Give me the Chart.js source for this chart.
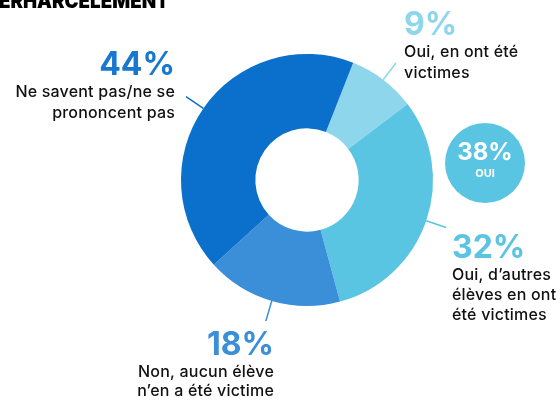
<!DOCTYPE html>
<html>
<head>
<meta charset="utf-8">
<script src="https://cdn.jsdelivr.net/npm/chart.js@4/dist/chart.umd.min.js"></script>
<style>
  html, body { margin: 0; padding: 0; background: #fff; }
  #wrap { position: relative; width: 560px; height: 401px; }
</style>
</head>
<body>
<div id="wrap"><canvas id="chart"></canvas></div>
<script>
// ── Data ────────────────────────────────────────────────────────────

const TITLE = 'ERHARCELEMENT';
const CATEGORIES = [
  'Oui, en ont été victimes',
  'Oui, d\u2019autres élèves en ont été victimes',
  'Non, aucun élève n\u2019en a été victime',
  'Ne savent pas/ne se prononcent pas',
];
const VALUES = [9, 32, 18, 44];
const COLORS = ['#8dd6eb', '#5ac4e3', '#3a8fd8', '#0a70cc'];
const PCT_COLORS = ['#8dd6eb', '#5ac4e3', '#3a8fd8', '#1877cf'];
const YES_TOTAL = '38%';
const YES_LABEL = 'OUI';

// label blocks: lines of text, anchor, alignment (layout only)
const LABELS = [
  { lines: ['Oui, en ont été', 'victimes'], x: 404, y: 35, align: 'left', gap: 21 },
  { lines: ['Oui, d\u2019autres', 'élèves en ont', 'été victimes'], x: 452, y: 258, align: 'left', gap: 20 },
  { lines: ['Non, aucun élève', 'n\u2019en a été victime'], x: 274, y: 355, align: 'right', gap: 19 },
  { lines: ['Ne savent pas/ne se', 'prononcent pas'], x: 175, y: 75, align: 'right', gap: 21 },
];

const FONT = 'Inter, "Noto Sans", sans-serif';

// ── Annotation plugin ───────────────────────────────────────────────

const annotations = {
  id: 'annotations',
  afterDraw(chart) {
    const ctx = chart.ctx;
    const arcs = chart.getDatasetMeta(0).data;
    ctx.save();

    // title, cut at the top edge
    ctx.fillStyle = '#000';
    ctx.font = `900 20px ${FONT}`;
    ctx.textAlign = 'left';
    ctx.textBaseline = 'alphabetic';
    ctx.fillText(TITLE, -1, 8, 170);

    // leader lines
    arcs.forEach((arc, i) => {
      const mid = (arc.startAngle + arc.endAngle) / 2;
      const r0 = arc.outerRadius;
      const r1 = r0 + 21;
      ctx.beginPath();
      ctx.moveTo(arc.x + Math.cos(mid) * r0, arc.y + Math.sin(mid) * r0);
      ctx.lineTo(arc.x + Math.cos(mid) * r1, arc.y + Math.sin(mid) * r1);
      ctx.strokeStyle = COLORS[i];
      ctx.lineWidth = 1.5;
      ctx.stroke();
    });

    // value + description
    LABELS.forEach((lab, i) => {
      ctx.textAlign = lab.align;
      ctx.fillStyle = PCT_COLORS[i];
      ctx.font = `700 32px ${FONT}`;
      ctx.fillText(VALUES[i] + '%', lab.x, lab.y);
      ctx.fillStyle = '#111';
      ctx.font = `500 16px ${FONT}`;
      ctx.letterSpacing = '0.2px';
      lab.lines.forEach((line, j) => {
        ctx.fillText(line, lab.x, lab.y + 21.5 + j * lab.gap);
      });
      ctx.letterSpacing = '0px';
    });

    // "38% OUI" bubble
    ctx.beginPath();
    ctx.arc(485, 163, 40, 0, Math.PI * 2);
    ctx.fillStyle = COLORS[1];
    ctx.fill();
    ctx.fillStyle = '#fff';
    ctx.textAlign = 'center';
    ctx.font = `700 24px ${FONT}`;
    ctx.fillText(YES_TOTAL, 485, 160);
    ctx.font = `700 11px ${FONT}`;
    ctx.fillText(YES_LABEL, 485, 177);

    ctx.restore();
  }
};

// ── Chart ───────────────────────────────────────────────────────────

new Chart(document.getElementById('chart'), {
  type: 'doughnut',
  data: {
    labels: CATEGORIES,
    datasets: [{
      data: VALUES,
      backgroundColor: COLORS,
      borderWidth: 0,
    }],
  },
  options: {
    responsive: true,
    maintainAspectRatio: false,
    animation: false,
    rotation: 21.5,
    cutout: '41%',
    layout: {
      padding: { left: 181, right: 127, top: 54, bottom: 95 },
    },
    plugins: {
      legend: { display: false },
      tooltip: { enabled: false },
    },
  },
  plugins: [annotations],
});
</script>
</body>
</html>
